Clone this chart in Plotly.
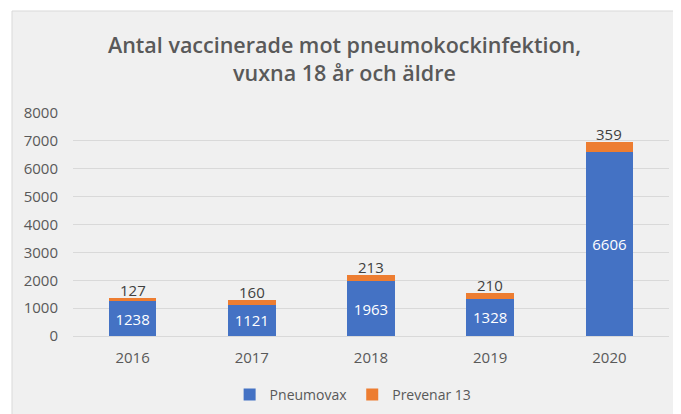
import plotly.graph_objects as go

years = ["2016", "2017", "2018", "2019", "2020"]
pneumovax = [1238, 1121, 1963, 1328, 6606]
prevenar = [127, 160, 213, 210, 359]
y_ticks = [0, 1000, 2000, 3000, 4000, 5000, 6000, 7000, 8000]

FONT = "Open Sans"
GRAY = "#595959"

W, H = 673, 406
L, R, T, B = 65, 12, 105, 78
PW, PH = W - L - R, H - T - B

fig = go.Figure()
fig.add_trace(go.Bar(
    x=years, y=pneumovax, name="Pneumovax",
    marker=dict(color="#4472C4", line=dict(width=0)),
    text=[str(v) for v in pneumovax], textposition="inside",
    insidetextanchor="middle",
    textfont=dict(color="white", size=15, family=FONT),
))
fig.add_trace(go.Bar(
    x=years, y=prevenar, name="Prevenar 13",
    marker=dict(color="#ED7D31", line=dict(width=0)),
))

totals = [a + b for a, b in zip(pneumovax, prevenar)]
for i, (tot, lab) in enumerate(zip(totals, prevenar)):
    fig.add_annotation(
        x=i, y=tot, text=str(lab), showarrow=False,
        xref="x", yref="y",
        yanchor="bottom", yshift=-4,
        font=dict(color="#404040", size=15, family=FONT),
    )

fig.update_layout(
    width=W, height=H,
    barmode="stack", bargap=0.6,
    paper_bgcolor="white", plot_bgcolor="rgba(0,0,0,0)",
    margin=dict(l=L, r=R, t=T, b=B, autoexpand=False),
    font=dict(family=FONT, color=GRAY, size=14),
    title=dict(
        text="Antal vaccinerade mot pneumokockinfektion,<br>vuxna 18 år och äldre",
        x=0.5, xanchor="center", xref="container",
        y=1 - 45 / H, yanchor="middle", yref="container",
        font=dict(family=FONT, size=21.5, color=GRAY, weight=600),
    ),
    legend=dict(
        orientation="h", x=0.47, xanchor="center",
        y=1 - 387 / H, yanchor="middle", yref="container",
        font=dict(size=14, color=GRAY, family=FONT), traceorder="normal",
        bgcolor="rgba(0,0,0,0)",
    ),
    shapes=[dict(
        type="rect", xref="paper", yref="paper",
        x0=-(L - 4) / PW, x1=1 + (R + 5) / PW, y0=-(B + 5) / PH, y1=1 + (T - 3) / PH,
        fillcolor="#F0F0F0", line=dict(color="#D9D9D9", width=1), layer="below",
    )],
)
fig.update_yaxes(
    range=[0, 8000], tickvals=y_ticks, showgrid=True, gridcolor="#D9D9D9",
    gridwidth=1, zeroline=False, showline=False, ticks="",
    tickfont=dict(size=15, color=GRAY, family=FONT), ticklabelstandoff=14,
)
fig.update_xaxes(
    type="category",
    showline=True, linecolor="#D9D9D9", ticks="",
    tickfont=dict(size=15, color=GRAY, family=FONT), ticklabelstandoff=8,
)

fig.write_html("out.html")
